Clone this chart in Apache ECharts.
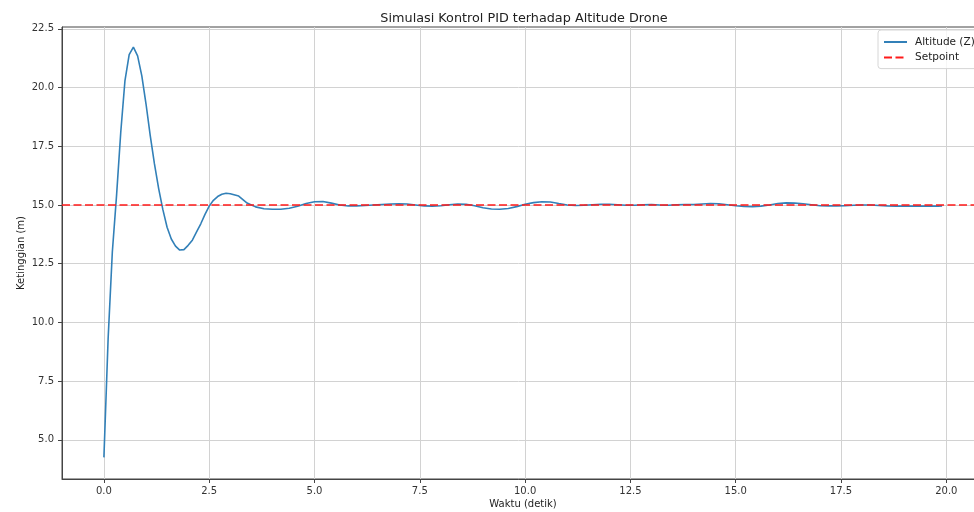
<!DOCTYPE html>
<html>
<head>
<meta charset="utf-8">
<script src="https://cdn.jsdelivr.net/npm/echarts@6/dist/echarts.min.js"></script>
<style>
html,body{margin:0;padding:0;background:#fff;}
#chart{width:974px;height:512px;}
</style>
</head>
<body>
<div id="chart"></div>
<script>
// ---- data ----
const timeValues = [
  0.0,0.1,0.2,0.3,0.4,0.5,0.6,0.7,0.8,0.9,
  1.0,1.1,1.2,1.3,1.4,1.5,1.6,1.7,1.8,1.9,
  2.0,2.1,2.2,2.3,2.4,2.5,2.6,2.7,2.8,2.9,3.0,
  3.2,3.4,3.6,3.8,4.0,4.2,4.4,4.6,4.8,5.0,
  5.2,5.4,5.6,5.8,6.0,6.2,6.4,6.6,6.8,7.0,
  7.2,7.4,7.6,7.8,8.0,8.2,8.4,8.6,8.8,9.0,
  9.2,9.4,9.6,9.8,10.0,10.2,10.4,10.6,10.8,11.0,
  11.2,11.4,11.6,11.8,12.0,12.2,12.4,12.6,12.8,13.0,
  13.2,13.4,13.6,13.8,14.0,14.2,14.4,14.6,14.8,15.0,
  15.2,15.4,15.6,15.8,16.0,16.2,16.4,16.6,16.8,17.0,
  17.2,17.4,17.6,17.8,18.0,18.2,18.4,18.6,18.8,19.0,
  19.2,19.4,19.6,19.8,19.9
];
const altitudeValues = [
  4.25,9.3,13.0,15.4,18.1,20.3,21.4,21.72,21.35,20.5,
  19.3,17.95,16.75,15.7,14.8,14.05,13.55,13.25,13.08,13.1,
  13.28,13.5,13.85,14.2,14.6,14.95,15.2,15.36,15.46,15.5,15.48,
  15.38,15.08,14.92,14.84,14.82,14.82,14.86,14.95,15.06,15.14,
  15.15,15.08,15.0,14.96,14.96,14.98,15.0,15.02,15.04,15.05,
  15.04,15.0,14.96,14.95,14.97,15.01,15.04,15.03,14.97,14.88,
  14.83,14.82,14.85,14.93,15.03,15.1,15.14,15.13,15.06,15.0,
  14.98,14.99,15.01,15.03,15.03,15.01,14.99,14.99,15.01,15.02,
  15.0,14.99,15.01,15.02,15.02,15.04,15.06,15.05,15.01,14.97,
  14.94,14.93,14.95,15.0,15.06,15.09,15.08,15.05,15.01,14.97,
  14.96,14.96,14.97,14.99,15.0,15.0,14.98,14.96,14.95,14.95,
  14.95,14.95,14.95,14.95,14.96
];
const setpointValue = 15;
const xTicks = [0, 2.5, 5, 7.5, 10, 12.5, 15, 17.5, 20];
const yTicks = [5, 7.5, 10, 12.5, 15, 17.5, 20, 22.5];
const xRange = [-0.995, 20.895];
const yRange = [3.33, 22.58];

const altitudeData = timeValues.map((t, i) => [t, altitudeValues[i]]);
const setpointData = xRange.map(x => [x, setpointValue]);

const chart = echarts.init(document.getElementById('chart'), null, {renderer: 'canvas'});
const labelStyle = {color: '#333', fontSize: 10, fontFamily: 'DejaVu Sans'};
chart.setOption({
  animation: false,
  backgroundColor: '#fff',
  title: {
    text: 'Simulasi Kontrol PID terhadap Altitude Drone',
    left: 519, top: 7, textAlign: 'center',
    textStyle: {fontSize: 12.8, fontWeight: 'normal', color: '#222', fontFamily: 'DejaVu Sans'}
  },
  legend: {
    orient: 'vertical',
    left: 878, top: 30,
    padding: [6, 8, 5, 5],
    itemWidth: 23, itemHeight: 10, itemGap: 3.6,
    backgroundColor: 'rgba(255,255,255,0.8)',
    borderColor: '#d6d6d6', borderWidth: 1, borderRadius: 3,
    itemStyle: {opacity: 0},
    textStyle: {fontSize: 10.5, color: '#222', lineHeight: 12, padding: [0, 0, 0, 3], fontFamily: 'DejaVu Sans'},
    data: ['Altitude (Z)', 'Setpoint']
  },
  grid: {
    left: 62, top: 27, width: 922, height: 452,
    outerBoundsMode: 'none',
    show: true, borderColor: '#444', borderWidth: 1, backgroundColor: '#fff'
  },
  xAxis: {
    type: 'value', min: xRange[0], max: xRange[1],
    name: 'Waktu (detik)', nameLocation: 'middle', nameGap: 20, nameMoveOverlap: false,
    nameTextStyle: {fontSize: 10, color: '#222', fontFamily: 'DejaVu Sans'},
    axisLine: {show: true, onZero: false, lineStyle: {color: '#444', width: 1}},
    axisTick: {show: true, length: 4, lineStyle: {color: '#444'}, customValues: xTicks},
    axisLabel: Object.assign({margin: 7, customValues: xTicks, formatter: v => v.toFixed(1)}, labelStyle),
    splitLine: {show: true, lineStyle: {color: '#d2d2d2', width: 1}}
  },
  yAxis: {
    type: 'value', min: yRange[0], max: yRange[1],
    name: 'Ketinggian (m)', nameLocation: 'middle', nameGap: 36, nameMoveOverlap: false,
    nameTextStyle: {fontSize: 10, color: '#222', fontFamily: 'DejaVu Sans'},
    axisLine: {show: true, onZero: false, lineStyle: {color: '#444', width: 1}},
    axisTick: {show: true, length: 4, lineStyle: {color: '#444'}, customValues: yTicks},
    axisLabel: Object.assign({margin: 8, customValues: yTicks, formatter: v => v.toFixed(1)}, labelStyle),
    splitLine: {show: true, lineStyle: {color: '#d2d2d2', width: 1}}
  },
  series: [
    {
      name: 'Altitude (Z)', type: 'line', data: altitudeData,
      showSymbol: false, symbol: 'none',
      lineStyle: {color: '#3280b8', width: 1.6},
      itemStyle: {color: '#3280b8'}
    },
    {
      name: 'Setpoint', type: 'line', data: setpointData,
      showSymbol: false, symbol: 'none',
      lineStyle: {color: '#ff1a1a', width: 1.5, type: [8, 3.5]},
      itemStyle: {color: '#ff1a1a'}
    }
  ]
});
</script>
</body>
</html>
